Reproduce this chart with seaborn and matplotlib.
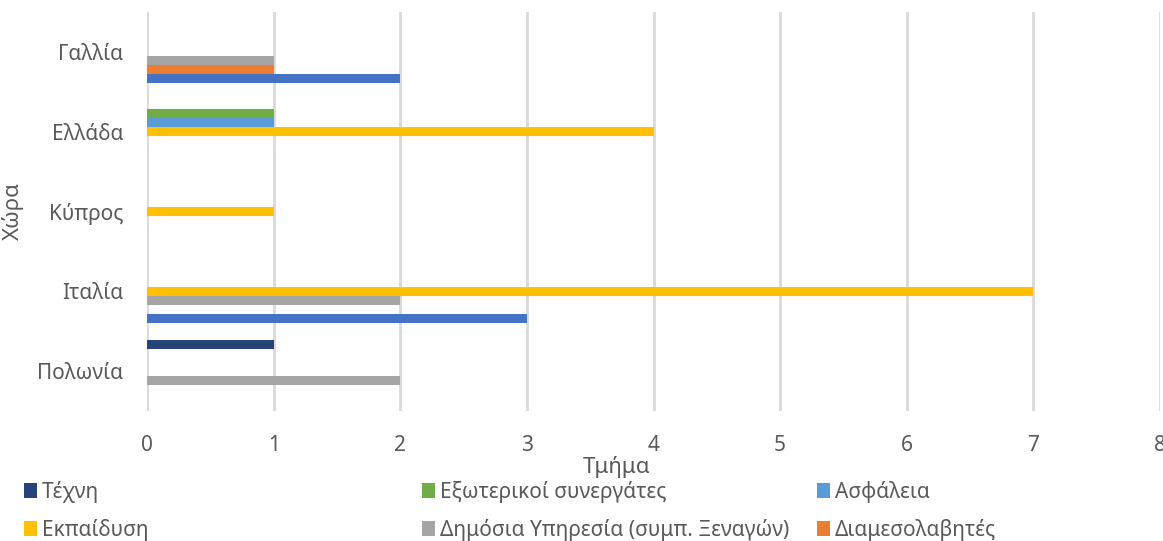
import pandas as pd
import matplotlib.pyplot as plt
import seaborn as sns
from matplotlib.patches import Patch

# countries, top to bottom as in the chart
countries = ['Γαλλία', 'Ελλάδα', 'Κύπρος', 'Ιταλία', 'Πολωνία']

# series (legend order); the last one is not shown in the legend of the original
series_names = ['Τέχνη', 'Εξωτερικοί συνεργάτες', 'Ασφάλεια', 'Εκπαίδυση',
                'Δημόσια Υπηρεσία (συμπ. Ξεναγών)', 'Διαμεσολαβητές', 'Άλλο']
tekhni = [0, 0, 0, 0, 1]
exoterikoi = [0, 1, 0, 0, 0]
asfaleia = [0, 1, 0, 0, 0]
ekpaidysi = [0, 4, 1, 7, 0]
dimosia = [1, 0, 0, 2, 2]
diamesolavites = [1, 0, 0, 0, 0]
allo = [2, 0, 0, 3, 0]

colors = ['#264478', '#70AD47', '#5B9BD5', '#FFC000', '#A5A5A5', '#ED7D31', '#4472C4']

rows = []
for name, vals in zip(series_names, [tekhni, exoterikoi, asfaleia, ekpaidysi, dimosia, diamesolavites, allo]):
    for c, v in zip(countries, vals):
        rows.append({'Χώρα': c, 'Τμήμα': name, 'value': v})
df = pd.DataFrame(rows)

sns.set_style('white')
plt.rcParams['font.family'] = ['Noto Sans', 'DejaVu Sans']
text_col = '#595959'

fig = plt.figure(figsize=(11.63, 5.41), dpi=100)
ax = fig.add_axes([147 / 1163, 1 - 411 / 541, 1013 / 1163, 399 / 541])

sns.barplot(data=df, x='value', y='Χώρα', hue='Τμήμα', order=countries,
            hue_order=series_names, palette=colors, saturation=1, orient='h',
            width=0.79, linewidth=0, ax=ax, legend=False)

ax.set_xlim(0, 8)
ax.set_xticks(range(9))
ax.grid(axis='x', color='#D9D9D9', linewidth=2)
ax.grid(axis='y', visible=False)
ax.set_axisbelow(True)
for s in ax.spines.values():
    s.set_visible(False)

ax.tick_params(axis='x', length=0, pad=17, labelsize=15, labelcolor=text_col)
ax.tick_params(axis='y', length=0, pad=17, labelsize=15, labelcolor=text_col)

ax.set_xlabel('Τμήμα', fontsize=16, color=text_col)
ax.xaxis.set_label_coords((617 - 147) / 1013, -(456 - 411) / 399)
ax.set_ylabel('Χώρα', fontsize=16, color=text_col)
ax.yaxis.set_label_coords(-(147 - 24) / 1013, 0.5)

# legend as three columns of two rows
cols_x = [24, 422, 817]
for i, x in enumerate(cols_x):
    idx = [i, i + 3]
    handles = [Patch(facecolor=colors[j], edgecolor='none') for j in idx]
    labels = [series_names[j] for j in idx]
    fig.legend(handles, labels, loc='upper left', bbox_to_anchor=(x / 1163, 1 - 481 / 541),
               frameon=False, fontsize=15, labelcolor=text_col, handlelength=0.6,
               handleheight=0.7, handletextpad=0.25, labelspacing=0.75, borderaxespad=0,
               borderpad=0)

fig.savefig('out.png', dpi=100)
